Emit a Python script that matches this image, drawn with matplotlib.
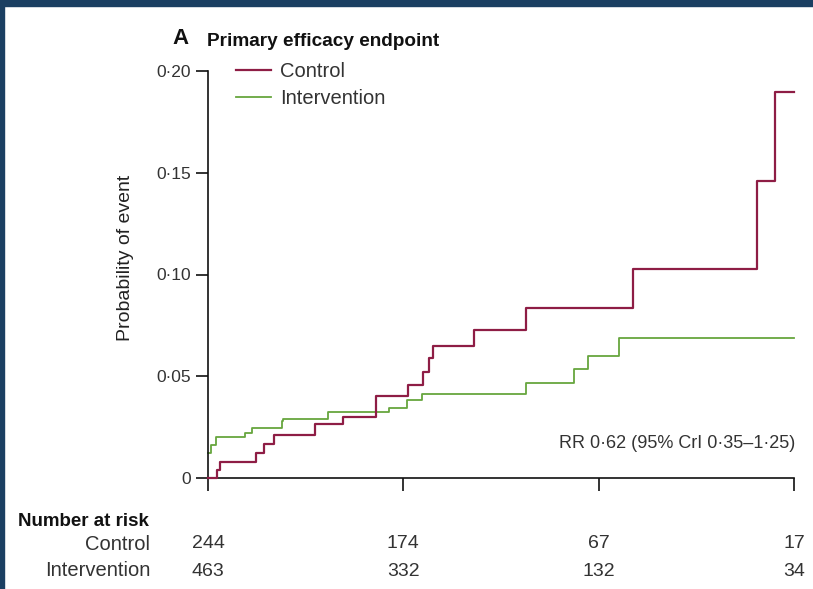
import matplotlib
matplotlib.use("Agg")
import matplotlib.pyplot as plt
from matplotlib.transforms import blended_transform_factory
from matplotlib.patches import Rectangle

# ---------------- data ----------------
control_t = [0.0, 0.0445, 0.061, 0.248, 0.289, 0.340, 0.547, 0.689, 0.861, 1.025,
             1.103, 1.129, 1.151, 1.361, 1.628, 2.175, 2.811, 2.905, 3.0]
control_p = [0.0, 0.0039, 0.0079, 0.0124, 0.0167, 0.0213, 0.0265, 0.0301, 0.0403, 0.0457,
             0.0522, 0.0588, 0.0649, 0.0727, 0.0837, 0.1027, 0.1461, 0.1897, 0.1897]
interv_t = [0.0, 0.015, 0.043, 0.189, 0.224, 0.377, 0.385, 0.615, 0.928, 1.020,
            1.096, 1.628, 1.875, 1.944, 2.104, 3.0]
interv_p = [0.0123, 0.0162, 0.0201, 0.0223, 0.0247, 0.0280, 0.0292, 0.0326, 0.0344, 0.0381,
            0.0414, 0.0469, 0.0535, 0.0601, 0.0690, 0.0690]
series_names = ["Control", "Intervention"]
x_ticks = [0, 1, 2, 3]
y_ticks = [0, 0.05, 0.10, 0.15, 0.20]
y_tick_labels = ["0", "0·05", "0·10", "0·15", "0·20"]
risk_control = ["244", "174", "67", "17"]
risk_interv = ["463", "332", "132", "34"]
rr_text = "RR 0·62 (95% CrI 0·35–1·25)"
title_letter = "A"
title_text = "Primary efficacy endpoint"
y_label = "Probability of event"

plt.rcParams["font.family"] = ["Liberation Sans", "DejaVu Sans"]

W, H = 813, 589
fig = plt.figure(figsize=(W / 100, H / 100), dpi=100)
fig.patch.set_facecolor("white")

def fx(x):
    return x / W

def fy(y):
    return 1 - y / H

# navy frame (top & left)
fig.add_artist(Rectangle((0, fy(6)), 1, 6 / H, transform=fig.transFigure, color="#1b3f62", zorder=10))
fig.add_artist(Rectangle((0, 0), 4 / W, 1, transform=fig.transFigure, color="#1b3f62", zorder=10))

ax = fig.add_axes([fx(208), fy(478), fx(794) - fx(208), fy(71) - fy(478)])
ax.set_xlim(0, 3)
ax.set_ylim(0, 0.20)

c_red = "#8e1d45"
c_green = "#67a63e"
ax.step(control_t, control_p, where="post", color=c_red, lw=1.6, clip_on=False, label=series_names[0], zorder=3)
ax.step(interv_t, interv_p, where="post", color=c_green, lw=1.3, clip_on=False, label=series_names[1], zorder=2)

for s in ["top", "right"]:
    ax.spines[s].set_visible(False)
for s in ["left", "bottom"]:
    ax.spines[s].set_linewidth(1.2)
    ax.spines[s].set_color("#111111")
ax.set_xticks(x_ticks)
ax.set_xticklabels([])
ax.set_yticks(y_ticks)
ax.set_yticklabels(y_tick_labels)
ax.tick_params(axis="both", direction="out", length=9, width=1.2, color="#111111",
               labelsize=12.5, labelcolor="#333333", pad=3)

fig.text(fx(125), fy(258), y_label, rotation=90, ha="center", va="center", fontsize=14, color="#222222")

leg = ax.legend(loc="upper left", bbox_to_anchor=(fx(236), fy(62)), bbox_transform=fig.transFigure,
                frameon=False, fontsize=14.5, handlelength=1.75, handletextpad=0.42,
                labelspacing=0.42, borderpad=0, borderaxespad=0)
for t in leg.get_texts():
    t.set_color("#333333")

fig.text(fx(795), fy(443), rr_text, ha="right", va="center", fontsize=13, color="#333333")

fig.text(fx(172), fy(38), title_letter, ha="left", va="center", fontsize=16, fontweight="bold", color="#111111")
fig.text(fx(207), fy(41), title_text, ha="left", va="center", fontsize=13.7, fontweight="bold", color="#111111")

fig.text(fx(18), fy(521), "Number at risk", ha="left", va="center", fontsize=13.5, fontweight="bold", color="#111111")
fig.text(fx(150), fy(544), series_names[0], ha="right", va="center", fontsize=14.5, color="#333333")
fig.text(fx(150), fy(571), series_names[1], ha="right", va="center", fontsize=14.5, color="#333333")
tr = blended_transform_factory(ax.transData, fig.transFigure)
for xv, a, b in zip(x_ticks, risk_control, risk_interv):
    ax.text(xv, fy(544), a, transform=tr, ha="center", va="center", fontsize=14, color="#333333")
    ax.text(xv, fy(571), b, transform=tr, ha="center", va="center", fontsize=14, color="#333333")

fig.savefig("out.png", dpi=100)
